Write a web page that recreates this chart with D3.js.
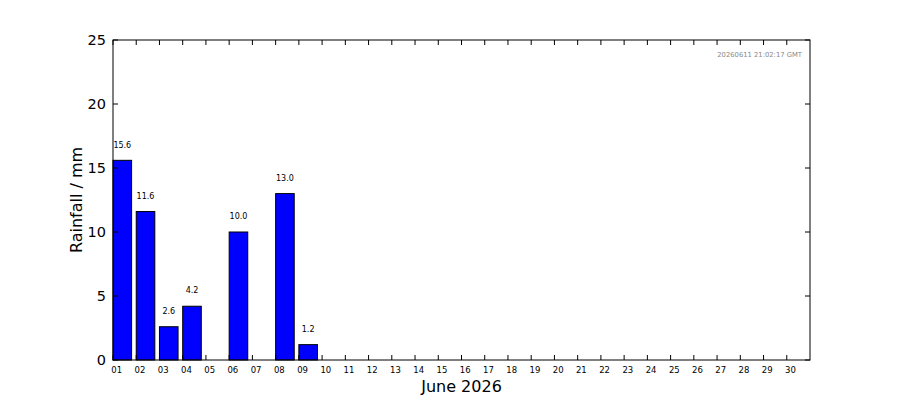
<!DOCTYPE html>
<html><head><meta charset="utf-8">
<script src="https://cdn.jsdelivr.net/npm/d3@7"></script>
<style>body{margin:0;background:#fff}svg{display:block}text{font-family:"DejaVu Sans",sans-serif}</style>
</head><body><svg id="c" width="900" height="400"></svg>
<script>
const days = ["01","02","03","04","05","06","07","08","09","10","11","12","13","14","15","16","17","18","19","20","21","22","23","24","25","26","27","28","29","30"];
const rainfall = [15.6,11.6,2.6,4.2,0,10.0,0,13.0,1.2,0,0,0,0,0,0,0,0,0,0,0,0,0,0,0,0,0,0,0,0,0];
const yTicks = [0,5,10,15,20,25];
const xTitle = "June 2026";
const yTitle = "Rainfall / mm";
const stamp = "20260611 21:02:17 GMT";

const svg = d3.select("#c");
const L=113, R=810, T=40, B=360;
const x = d3.scaleLinear().domain([1,31]).range([L,R]);
const y = d3.scaleLinear().domain([0,25]).range([B,T]);
const bw = 0.8;

// bars
svg.append("g").selectAll("rect").data(rainfall).join("rect")
  .attr("x",(d,i)=>x(i+1)).attr("width",x(1+bw)-x(1))
  .attr("y",d=>y(d)).attr("height",d=>y(0)-y(d))
  .attr("fill","#0000ff").attr("stroke","#000").attr("stroke-width",1);

// value labels
svg.append("g").selectAll("text").data(rainfall.map((v,i)=>({v,i})).filter(d=>d.v>0)).join("text")
  .attr("x",d=>x(d.i+1+bw/2)).attr("y",d=>y(d.v+1))
  .attr("text-anchor","middle").attr("font-size",8).attr("fill","#000")
  .text(d=>d.v.toFixed(1));

// frame
svg.append("rect").attr("x",L).attr("y",T).attr("width",R-L).attr("height",B-T)
  .attr("fill","none").attr("stroke","#000").attr("stroke-width",1);

// x ticks (inward, bottom and top)
const xt = days.map((d,i)=>i+1);
const gx = svg.append("g");
gx.selectAll("line.b").data(xt).join("line").attr("class","b")
  .attr("x1",d=>x(d)).attr("x2",d=>x(d)).attr("y1",B).attr("y2",B-5).attr("stroke","#000");
gx.selectAll("line.t").data(xt).join("line").attr("class","t")
  .attr("x1",d=>x(d)).attr("x2",d=>x(d)).attr("y1",T).attr("y2",T+5).attr("stroke","#000");
gx.selectAll("text").data(days).join("text")
  .attr("x",(d,i)=>x(i+1)+3.7).attr("y",B+12.5).attr("font-size",8.5).attr("text-anchor","middle")
  .text(d=>d);

// y ticks
const gy = svg.append("g");
gy.selectAll("line.l").data(yTicks).join("line").attr("class","l")
  .attr("x1",L).attr("x2",L+5).attr("y1",d=>y(d)).attr("y2",d=>y(d)).attr("stroke","#000");
gy.selectAll("line.r").data(yTicks).join("line").attr("class","r")
  .attr("x1",R).attr("x2",R-5).attr("y1",d=>y(d)).attr("y2",d=>y(d)).attr("stroke","#000");
gy.selectAll("text").data(yTicks).join("text")
  .attr("x",L-7).attr("y",d=>y(d)+5).attr("font-size",14.5).attr("text-anchor","end")
  .text(d=>d);

// titles
svg.append("text").attr("x",(L+R)/2).attr("y",392).attr("text-anchor","middle").attr("font-size",16).text(xTitle);
svg.append("text").attr("transform",`translate(81.5,${(T+B)/2}) rotate(-90)`).attr("text-anchor","middle").attr("font-size",16).text(yTitle);

// timestamp
svg.append("text").attr("x",802).attr("y",57).attr("text-anchor","end").attr("font-size",6.8).attr("fill","#888").text(stamp);
</script></body></html>
